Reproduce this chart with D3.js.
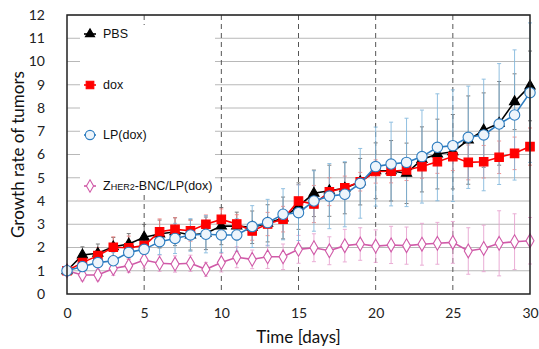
<html>
<script src='https://d3js.org/d3.v7.min.js'></script>
<style>
body {margin: 0; background: white;}
.tick text {font-family: Lato, "Open Sans", sans-serif; font-size: 14px; fill: #222;}
.lg {font-family: "Liberation Sans", Arial, sans-serif; font-size: 12.5px; fill: #111;}
</style>
<body>
<svg width=539 height=349></svg>
<script>
// data
var days = [0,1,2,3,4,5,6,7,8,9,10,11,12,13,14,15,16,17,18,19,20,21,22,23,24,25,26,27,28,29,30];
var pbs  = [1,1.68,1.75,2.03,2.15,2.44,2.58,2.68,2.54,2.61,2.92,2.92,2.87,3.04,3.27,3.78,4.33,4.44,4.55,4.83,5.3,5.3,5.19,5.79,6.02,6.12,6.62,7.05,7.34,8.27,8.95];
var dox  = [1,1.35,1.65,2.01,1.99,2.08,2.68,2.78,2.72,3.0,3.21,3.01,2.71,3.01,3.22,4.0,3.87,4.4,4.57,4.83,5.27,5.28,5.33,5.48,5.69,5.91,5.66,5.69,5.88,6.05,6.34];
var lp   = [1,1.18,1.35,1.43,1.79,1.92,2.25,2.39,2.54,2.57,2.54,2.54,2.9,3.07,3.43,3.5,4.0,4.21,4.29,4.76,5.48,5.59,5.66,5.91,6.31,6.38,6.74,6.84,7.31,7.7,8.66];
var zher = [1,0.82,0.82,1.1,1.22,1.46,1.32,1.29,1.32,1.06,1.35,1.58,1.49,1.6,1.6,1.92,1.99,1.86,2.08,2.15,2.06,2.11,2.08,2.14,2.18,2.22,1.85,1.96,2.18,2.25,2.29];

var pbsErr  = [0,0.35,0.4,0.4,0.45,0.55,0.6,0.6,0.65,0.7,0.8,0.6,0.7,0.8,0.9,1.0,1.0,1.1,1.1,1.0,1.2,1.3,1.3,1.4,1.5,1.6,1.9,1.6,1.8,1.2,1.5];
var doxErr  = [0,0.3,0.35,0.45,0.5,0.5,0.55,0.5,0.45,0.4,0.45,0.4,0.4,0.5,0.55,0.7,0.8,0.6,0.5,0.4,0.5,0.5,0.45,0.5,0.5,0.6,0.75,0.7,0.7,0.7,0.8];
var lpErr   = [0,0.2,0.3,0.35,0.4,0.5,0.55,0.65,0.7,0.8,0.75,0.7,0.9,1.0,1.1,1.2,1.3,1.4,1.4,1.5,1.7,1.8,1.9,2.0,2.3,2.4,2.2,2.4,2.6,2.8,3.0];
var zherErr = [0,0.25,0.25,0.3,0.3,0.35,0.35,0.35,0.35,0.3,0.4,0.45,0.4,0.5,0.55,0.6,0.6,0.6,0.7,0.7,0.7,0.8,0.8,0.9,0.9,0.9,1.0,1.0,1.4,1.2,1.0];

var xTicks = [0,5,10,15,20,25,30];
var yTicks = [0,1,2,3,4,5,6,7,8,9,10,11,12];

var mLeft = 67, mTop = 15, width = 463, height = 279;
var svg = d3.select("svg");
var x = d3.scaleLinear().domain([0,30]).range([0, width]);
var y = d3.scaleLinear().domain([0,12]).range([height, 0]);

var g = svg.append("g").attr("transform","translate("+mLeft+","+mTop+")");

// grid
g.append("g").selectAll("line").data(yTicks.slice(1)).enter().append("line")
  .attr("x1",0).attr("x2",width).attr("y1",d=>y(d)).attr("y2",d=>y(d))
  .attr("stroke","#b8b8b8").attr("stroke-width",1);
g.append("g").selectAll("line").data(xTicks.slice(1,-1)).enter().append("line")
  .attr("x1",d=>x(d)).attr("x2",d=>x(d)).attr("y1",0).attr("y2",height)
  .attr("stroke","#555").attr("stroke-width",1).attr("stroke-dasharray","5,4");

// legend background hides grid
g.append("rect").attr("x",13).attr("y",10).attr("width",135).attr("height",170).attr("fill","white");

// axes (labels only)
var xa = g.append("g").attr("transform","translate(0,"+height+")")
  .call(d3.axisBottom(x).tickValues(xTicks).tickSize(0).tickPadding(14));
xa.select(".domain").remove();
var ya = g.append("g").call(d3.axisLeft(y).tickValues(yTicks).tickSize(0).tickPadding(22));
ya.select(".domain").remove();

var series = [
  {name:"zher", v:zher, e:zherErr, line:"#d05aa8", err:"#e7a0cf", shape:d3.symbolDiamond, size:55, fill:"white", stroke:"#d05aa8"},
  {name:"pbs",  v:pbs,  e:pbsErr,  line:"#000",    err:"#666",    shape:d3.symbolTriangle, size:45, fill:"#000", stroke:"#000"},
  {name:"dox",  v:dox,  e:doxErr,  line:"#ff0000", err:"#f08080", shape:d3.symbolSquare, size:72, fill:"#ff0000", stroke:"#ff0000"},
  {name:"lp",   v:lp,   e:lpErr,   line:"#2e7dc0", err:"#7fb6dc", shape:d3.symbolCircle, size:85, fill:"#eef5fb", stroke:"#2e7dc0"}
];

// error bars
series.forEach(function(s) {
  var eb = g.append("g").attr("stroke", s.err).attr("stroke-width",1).attr("opacity",0.85);
  days.forEach(function(d,i) {
    if (s.e[i] <= 0) return;
    var y1 = y(s.v[i]+s.e[i]), y2 = y(Math.max(0, s.v[i]-s.e[i]));
    eb.append("line").attr("x1",x(d)).attr("x2",x(d)).attr("y1",y1).attr("y2",y2);
    eb.append("line").attr("x1",x(d)-2).attr("x2",x(d)+2).attr("y1",y1).attr("y2",y1);
    eb.append("line").attr("x1",x(d)-2).attr("x2",x(d)+2).attr("y1",y2).attr("y2",y2);
  });
});

// lines and markers
series.forEach(function(s) {
  var line = d3.line().x((d,i)=>x(days[i])).y(d=>y(d));
  g.append("path").datum(s.v).attr("d",line).attr("fill","none")
    .attr("stroke",s.line).attr("stroke-width",1.6);
  g.append("g").selectAll("path").data(s.v).enter().append("path")
    .attr("transform",(d,i)=>"translate("+x(days[i])+","+y(d)+")")
    .attr("d",d3.symbol().type(s.shape).size(s.size))
    .attr("fill",s.fill).attr("stroke",s.stroke).attr("stroke-width",1.1);
});

// frame
g.append("rect").attr("width",width).attr("height",height).attr("fill","none")
  .attr("stroke","#222").attr("stroke-width",1.5);

// legend
var legend = [
  {label:"PBS", s:series[1], y:19},
  {label:"dox", s:series[2], y:70},
  {label:"LP(dox)", s:series[3], y:120},
  {label:"Z", s:series[0], y:171}
];
legend.forEach(function(l) {
  var lg = g.append("g").attr("transform","translate(23,"+l.y+")");
  lg.append("line").attr("x1",-6).attr("x2",6).attr("stroke",l.s.line).attr("stroke-width",1.6);
  lg.append("path").attr("d",d3.symbol().type(l.s.shape).size(l.s.size*0.8))
    .attr("fill",l.s.fill).attr("stroke",l.s.stroke).attr("stroke-width",1.1);
  var t = lg.append("text").attr("class","lg").attr("x",13).attr("dy","0.35em");
  if (l.label == "Z") {
    t.append("tspan").text("Z");
    t.append("tspan").style("font-size","9px").text("HER2");
    t.append("tspan").text("-BNC/LP(dox)");
  } else {
    t.text(l.label);
  }
});

// titles
svg.append("text").attr("x", mLeft+width/2).attr("y", 343)
  .attr("text-anchor","middle").style("font-family","Lato, 'Open Sans', sans-serif")
  .style("font-size","17px").attr("fill","#111").text("Time [days]");
svg.append("text").attr("transform","translate(24,"+(mTop+height/2)+") rotate(-90)")
  .attr("text-anchor","middle").style("font-family","Lato, 'Open Sans', sans-serif")
  .style("font-size","17px").attr("fill","#111").text("Growth rate of tumors");
</script>
</body>
</html>
